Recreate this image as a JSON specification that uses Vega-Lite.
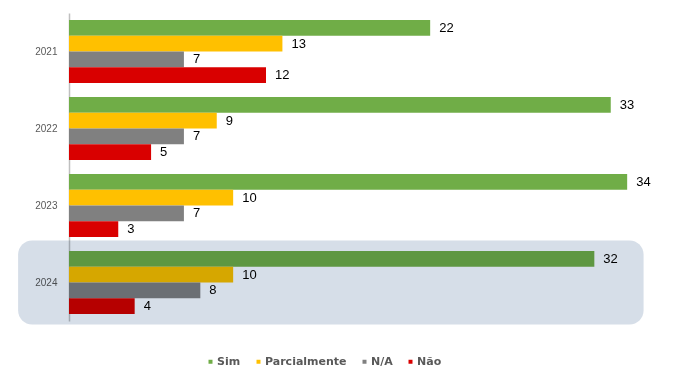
{
  "$schema": "https://vega.github.io/schema/vega-lite/v6.json",
  "autosize": "none",
  "width": 591,
  "height": 308,
  "padding": {"left": 69, "top": 13, "right": 14, "bottom": 67},
  "background": "white",
  "config": {"view": {"stroke": null}},
  "data": {"values": [
    {"year": "2021", "serie": "Sim", "value": 22},
    {"year": "2021", "serie": "Parcialmente", "value": 13},
    {"year": "2021", "serie": "N/A", "value": 7},
    {"year": "2021", "serie": "Não", "value": 12},
    {"year": "2022", "serie": "Sim", "value": 33},
    {"year": "2022", "serie": "Parcialmente", "value": 9},
    {"year": "2022", "serie": "N/A", "value": 7},
    {"year": "2022", "serie": "Não", "value": 5},
    {"year": "2023", "serie": "Sim", "value": 34},
    {"year": "2023", "serie": "Parcialmente", "value": 10},
    {"year": "2023", "serie": "N/A", "value": 7},
    {"year": "2023", "serie": "Não", "value": 3},
    {"year": "2024", "serie": "Sim", "value": 32},
    {"year": "2024", "serie": "Parcialmente", "value": 10},
    {"year": "2024", "serie": "N/A", "value": 8},
    {"year": "2024", "serie": "Não", "value": 4}
  ]},
  "encoding": {
    "y": {
      "field": "year", "type": "nominal", "title": null,
      "scale": {"paddingInner": 0.18, "paddingOuter": 0.09},
      "axis": {
        "ticks": false, "labelPadding": 12, "labelFont": "Liberation Sans",
        "labelFontSize": 10, "labelColor": "#595959", "domainColor": "#bfbfbf",
        "domainWidth": 1.5
      }
    }
  },
  "layer": [
    {
      "mark": {"type": "bar"},
      "encoding": {
        "yOffset": {"field": "serie", "type": "nominal", "sort": ["Sim", "Parcialmente", "N/A", "Não"], "scale": {"paddingInner": 0, "paddingOuter": 0}},
        "x": {"field": "value", "type": "quantitative", "scale": {"domain": [0, 36], "nice": false}, "axis": null},
        "color": {
          "field": "serie", "type": "nominal", "title": null,
          "scale": {"domain": ["Sim", "Parcialmente", "N/A", "Não"], "range": ["#70ad47", "#ffc000", "#808080", "#d90000"]},
          "legend": {
            "orient": "none", "legendX": 136, "legendY": 343, "direction": "horizontal",
            "symbolType": "square", "symbolSize": 16, "symbolStrokeWidth": 0,
            "labelFont": "DejaVu Sans", "labelFontWeight": "bold", "labelFontSize": 11,
            "labelColor": "#595959", "labelOffset": 1, "columnPadding": 12
          }
        }
      }
    },
    {
      "mark": {"type": "text", "align": "left", "baseline": "middle", "dx": 9, "font": "Liberation Sans", "fontSize": 13, "color": "#000000"},
      "encoding": {
        "yOffset": {"field": "serie", "type": "nominal", "sort": ["Sim", "Parcialmente", "N/A", "Não"]},
        "x": {"field": "value", "type": "quantitative"},
        "text": {"field": "value", "type": "quantitative"}
      }
    },
    {
      "transform": [
        {"filter": "datum.year == '2024'"},
        {"aggregate": [{"op": "count", "as": "n"}], "groupby": ["year"]}
      ],
      "mark": {"type": "bar", "height": {"band": 1.33}, "cornerRadius": 14, "fill": "#d6dee8", "blend": "multiply"},
      "encoding": {
        "x": {"datum": -3.1},
        "x2": {"datum": 35}
      }
    }
  ]
}
